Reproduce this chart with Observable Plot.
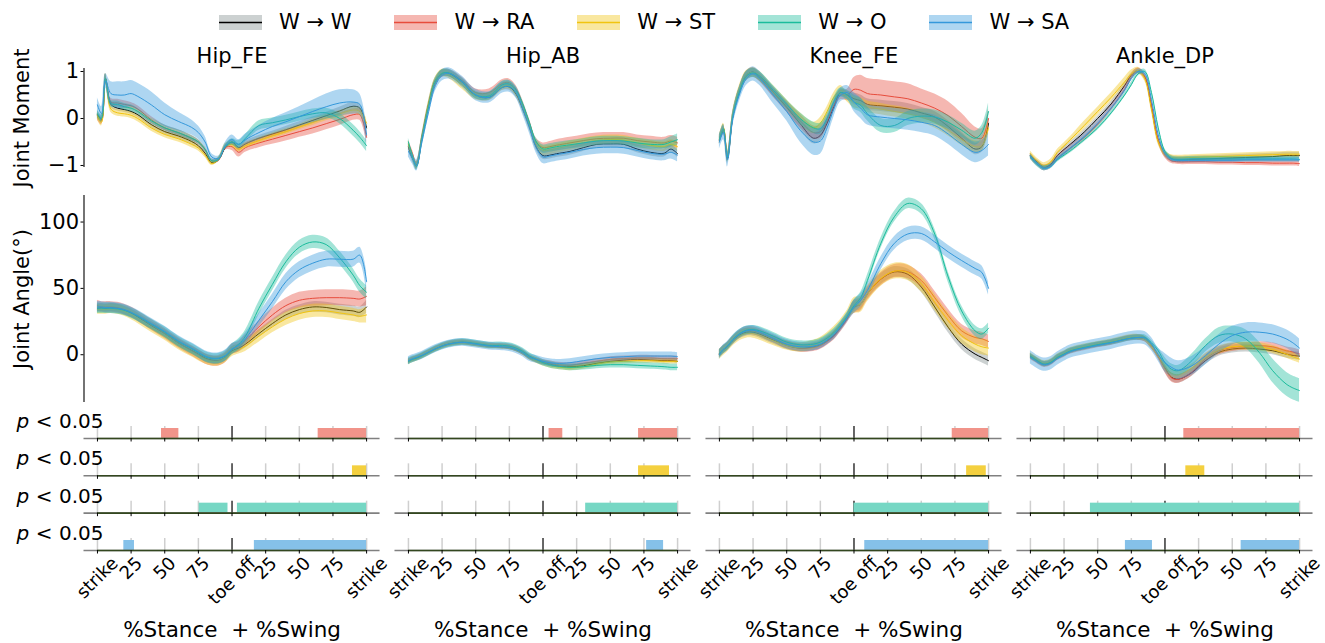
<!DOCTYPE html>
<html><head><meta charset="utf-8">
<script src="https://cdn.jsdelivr.net/npm/d3@7"></script>
<script src="https://cdn.jsdelivr.net/npm/@observablehq/plot@0.6"></script>
<style>
body{margin:0;background:#fff;font-family:"DejaVu Sans",sans-serif;}
#fig{position:relative;width:1325px;height:643px;overflow:hidden;background:#fff}
</style></head><body><div id="fig"></div>
<script>
// ---------- categories, ticks ----------
const xs = [0,3,6,10,15,20,25,30,40,50,60,70,75,80,85,90,95,100,105,110,120,130,140,150,160,170,180,190,195,200];
const joints = ["Hip_FE","Hip_AB","Knee_FE","Ankle_DP"];
const seriesKeys = ["W","RA","ST","O","SA"];
const seriesLabels = ["W → W","W → RA","W → ST","W → O","W → SA"];
const lineColors = ["#000000","#e74c3c","#f1c40f","#1abc9c","#3498db"];
const bandColors = ["#7f8c8d","#e74c3c","#f1c40f","#1abc9c","#3498db"];
const pKeys = ["RA","ST","O","SA"];
const barColors = ["#f1948a","#f4d03f","#76d7c4","#85c1e9"];
const xTickValues = [0,25,50,75,100,125,150,175,200];
const xTickLabels = ["strike","25","50","75","toe off","25","50","75","strike"];
const momentTicks = [-1,0,1];
const angleTicks = [0,50,100];

// ---------- Hip_FE ----------
const hipFE_M_W  = [0.08,-0.02,0.85,0.3,0.22,0.19,0.15,0.08,-0.13,-0.28,-0.37,-0.49,-0.58,-0.74,-0.94,-0.88,-0.62,-0.5,-0.62,-0.54,-0.42,-0.33,-0.24,-0.14,-0.04,0.06,0.16,0.26,0.22,-0.2];
const hipFE_M_RA = [0.05,-0.05,0.85,0.35,0.33,0.3,0.27,0.2,-0.03,-0.2,-0.3,-0.42,-0.5,-0.66,-0.9,-0.88,-0.62,-0.6,-0.72,-0.62,-0.52,-0.44,-0.36,-0.28,-0.2,-0.11,-0.02,0.08,0.08,-0.4];
const hipFE_M_ST = [0.05,-0.08,0.85,0.2,0.12,0.1,0.07,0.0,-0.2,-0.34,-0.43,-0.55,-0.63,-0.78,-0.96,-0.86,-0.58,-0.55,-0.65,-0.58,-0.47,-0.37,-0.28,-0.18,-0.08,0.02,0.1,0.18,0.15,-0.1];
const hipFE_M_O  = [0.1,0.0,0.85,0.32,0.3,0.25,0.22,0.15,-0.05,-0.2,-0.3,-0.42,-0.5,-0.66,-0.9,-0.87,-0.6,-0.5,-0.55,-0.42,-0.15,-0.09,-0.03,0.04,0.1,0.12,0.0,-0.25,-0.4,-0.58];
const hipFE_M_SA = [0.29,0.1,0.8,0.53,0.5,0.5,0.53,0.47,0.29,0.08,-0.06,-0.19,-0.3,-0.5,-0.82,-0.85,-0.58,-0.45,-0.55,-0.45,-0.3,-0.17,-0.07,0.04,0.15,0.25,0.33,0.35,0.3,-0.35];
const hipFE_M_W_sd  = [0.08,0.08,0.1,0.07,0.06,0.06,0.06,0.06,0.06,0.06,0.06,0.06,0.05,0.05,0.04,0.04,0.05,0.06,0.06,0.06,0.06,0.06,0.07,0.07,0.07,0.07,0.08,0.08,0.08,0.1];
const hipFE_M_RA_sd = [0.08,0.08,0.1,0.08,0.08,0.08,0.07,0.07,0.07,0.06,0.06,0.06,0.05,0.05,0.04,0.04,0.05,0.08,0.1,0.1,0.1,0.11,0.12,0.12,0.13,0.13,0.13,0.12,0.12,0.12];
const hipFE_M_ST_sd = [0.08,0.08,0.1,0.07,0.07,0.07,0.07,0.07,0.07,0.07,0.07,0.07,0.06,0.05,0.04,0.04,0.05,0.06,0.06,0.06,0.06,0.06,0.06,0.06,0.07,0.07,0.07,0.07,0.08,0.1];
const hipFE_M_O_sd  = [0.08,0.08,0.1,0.07,0.07,0.07,0.07,0.06,0.06,0.06,0.06,0.06,0.05,0.05,0.04,0.04,0.05,0.07,0.08,0.08,0.1,0.1,0.1,0.1,0.1,0.1,0.11,0.12,0.12,0.12];
const hipFE_M_SA_sd = [0.15,0.15,0.15,0.25,0.28,0.28,0.28,0.28,0.28,0.25,0.2,0.16,0.14,0.12,0.07,0.05,0.07,0.1,0.1,0.12,0.15,0.17,0.19,0.21,0.24,0.27,0.28,0.26,0.22,0.2];

const hipFE_A_W  = [35,35.5,35,35.6,35,33.6,31.5,28.5,22,16,9,3.3,0.5,-2.5,-4,-4.3,-2,3,5,8,16,23.5,30,34,36,35.6,34,33,32,36];
const hipFE_A_RA = [37,36,36,36,35.5,34,32,29,22.5,16,9,3,0,-3,-4.5,-4.5,-2,4,6,11,21,30,37,41,42.5,43,43,42.5,42,44];
const hipFE_A_ST = [34,34,34,34.5,34,32.5,30,27,20.5,14.5,7.5,2,-1,-3.5,-5,-5,-2.5,2,4,6.5,14,21,27,31,33,33,31.5,30,29,30];
const hipFE_A_O  = [35,35,35,35,34.5,33.5,31.5,29,23,17,10,4.5,1.5,-1.5,-3,-3,-1,4,8,14,35,53,70,81,85,83,73,60,52,47];
const hipFE_A_SA = [36,36,35.5,35.5,35,34,32,29.5,23.5,17.5,10.5,5,2,-1,-2.5,-2.5,-0.5,4.5,7,12,26,40,55,64,69,72,72,72,75,55];
const hipFE_A_W_sd  = [3,3,3,3,3,3,3,3,3,3,3,3,3,3,3,3,3,3,3,3,3,3,3.5,3.5,4,4,4,4,4,5];
const hipFE_A_RA_sd = [4,4,4,4,4,4,4,4,4,4,4,4,4,4,4,4,4,4,4,4,4.5,5,5.5,6,6,6,6,6,6,7];
const hipFE_A_ST_sd = [3.5,3.5,3.5,3.5,3.5,3.5,3.5,3.5,3.5,3.5,3.5,3.5,3.5,3.5,3.5,3.5,3.5,3.5,3.5,4,4.5,4.5,5,5,5,5,5,5,5,6];
const hipFE_A_O_sd  = [4,4,4,4,4,4,4,4,4,4,4,4,4,4,4,4,4,4,4,4.5,5,5,5,5,5,5,5,5,5,5];
const hipFE_A_SA_sd = [4,4,4,4,4,4,4,4,4,4,4,4,4,4,4,4,4,4,4,4.5,5,5.5,6,6,6,6,6,6,6,8];

// ---------- Hip_AB ----------
const hipAB_M_W  = [-0.61,-0.85,-0.98,-0.4,0.31,0.81,0.96,0.96,0.77,0.49,0.45,0.67,0.67,0.52,0.2,-0.18,-0.61,-0.79,-0.78,-0.75,-0.7,-0.62,-0.55,-0.54,-0.55,-0.65,-0.72,-0.74,-0.65,-0.75];
const hipAB_M_RA = [-0.55,-0.75,-1.0,-0.45,0.25,0.75,0.95,0.97,0.8,0.55,0.55,0.75,0.76,0.62,0.3,-0.1,-0.5,-0.62,-0.6,-0.57,-0.52,-0.47,-0.43,-0.42,-0.42,-0.47,-0.5,-0.52,-0.48,-0.52];
const hipAB_M_ST = [-0.55,-0.8,-1.0,-0.42,0.3,0.8,0.97,0.93,0.7,0.48,0.47,0.68,0.7,0.55,0.25,-0.15,-0.55,-0.68,-0.67,-0.64,-0.58,-0.52,-0.47,-0.45,-0.46,-0.52,-0.57,-0.6,-0.55,-0.6];
const hipAB_M_O  = [-0.5,-0.8,-1.02,-0.45,0.25,0.78,0.96,0.97,0.78,0.5,0.48,0.72,0.73,0.6,0.3,-0.1,-0.5,-0.65,-0.63,-0.6,-0.56,-0.52,-0.48,-0.47,-0.48,-0.52,-0.55,-0.55,-0.5,-0.45];
const hipAB_M_SA = [-0.7,-0.85,-1.0,-0.5,0.15,0.7,0.92,0.96,0.78,0.5,0.45,0.66,0.68,0.55,0.2,-0.2,-0.62,-0.82,-0.8,-0.77,-0.72,-0.66,-0.62,-0.61,-0.62,-0.68,-0.74,-0.76,-0.72,-0.78];
const hipAB_M_W_sd  = [0.07,0.07,0.07,0.07,0.07,0.07,0.07,0.07,0.07,0.07,0.07,0.07,0.07,0.07,0.07,0.07,0.07,0.08,0.08,0.08,0.08,0.08,0.08,0.08,0.08,0.08,0.08,0.08,0.08,0.08];
const hipAB_M_RA_sd = [0.08,0.08,0.08,0.08,0.08,0.08,0.08,0.08,0.08,0.08,0.08,0.08,0.08,0.08,0.08,0.08,0.08,0.1,0.11,0.12,0.12,0.12,0.12,0.12,0.12,0.12,0.12,0.12,0.12,0.12];
const hipAB_M_ST_sd = [0.08,0.08,0.08,0.08,0.08,0.08,0.08,0.08,0.08,0.08,0.08,0.08,0.08,0.08,0.08,0.08,0.08,0.1,0.1,0.1,0.1,0.1,0.1,0.1,0.1,0.1,0.1,0.1,0.1,0.1];
const hipAB_M_O_sd  = [0.08,0.08,0.08,0.08,0.08,0.08,0.08,0.08,0.08,0.08,0.08,0.08,0.08,0.08,0.08,0.08,0.08,0.09,0.09,0.09,0.09,0.09,0.09,0.09,0.09,0.1,0.1,0.1,0.11,0.12];
const hipAB_M_SA_sd = [0.12,0.12,0.12,0.12,0.12,0.12,0.12,0.12,0.12,0.12,0.12,0.12,0.12,0.12,0.12,0.12,0.12,0.14,0.14,0.14,0.14,0.14,0.14,0.14,0.14,0.14,0.14,0.14,0.14,0.14];

const hipAB_A_W  = [-5,-3.5,-2.5,-0.8,1.8,4.3,6.5,8,9.3,8,6.5,6,5.5,4,1.5,-2,-4,-5.8,-7,-8.3,-9,-8.3,-6.5,-5,-4,-3.5,-4,-4.5,-4.5,-5];
const hipAB_A_RA = [-5,-3.5,-2.5,-0.8,1.8,4.3,6.5,8.2,9.5,8.2,6.8,6.3,5.8,4.3,1.7,-1.8,-4,-5.5,-6.5,-7.5,-8,-6.5,-5,-3.5,-3,-2.5,-2.5,-3,-3,-3];
const hipAB_A_ST = [-5.5,-4,-3,-1.2,1.5,4,6.2,7.8,9.2,8,6.5,6.2,5.8,4.5,1.8,-2,-4.5,-6.5,-8,-9,-10,-9,-7,-5.5,-5,-4.5,-4.5,-5,-5,-5];
const hipAB_A_O  = [-5,-3.5,-2.5,-0.8,1.8,4.3,6.5,8,9.5,8.5,7,7,6.5,5,2.5,-1,-3.5,-6,-7.5,-8.5,-9.5,-9,-8,-7.5,-7.5,-8,-8.5,-9,-9.5,-9.5];
const hipAB_A_SA = [-4.5,-3,-2,-0.5,2,4.5,6.5,8,9.3,8,6.5,6,5.5,4,1.5,-2,-3.5,-5,-6,-6.5,-6,-4.5,-3,-2,-1.5,-1,-1,-1,-1,-1.5];
const hipAB_A_W_sd  = [1.5,1.5,1.5,1.5,1.5,1.5,1.5,1.5,1.5,1.5,1.5,1.5,1.5,1.5,1.5,1.5,1.5,1.5,1.5,1.5,1.5,1.5,1.5,1.5,1.5,1.5,1.5,1.5,1.5,1.5];
const hipAB_A_RA_sd = [2,2,2,2,2,2,2,2,2,2,2,2,2,2,2,2,2,2,2,2,2,2,2,2,2,2,2,2,2,2];
const hipAB_A_ST_sd = [2,2,2,2,2,2,2,2,2,2,2,2,2,2,2,2,2,2,2,2,2,2,2,2,2,2,2,2,2,2];
const hipAB_A_O_sd  = [2.5,2.5,2.5,2.5,2.5,2.5,2.5,2.5,2.5,2.5,2.5,2.5,2.5,2.5,2.5,2.5,2.5,2.5,2.5,2.5,2.5,2.5,2.5,2.5,2.5,2.5,2.5,2.5,2.5,2.5];
const hipAB_A_SA_sd = [3,3,3,3,3,3,3,3,3,3,3,3,3,3,3,3,3,3,3,3,3,3,3,3,3,3,3,3,3,3];

// ---------- Knee_FE ----------
const kneeFE_M_W  = [-0.47,-0.25,-0.85,0.05,0.6,0.92,0.99,0.88,0.56,0.24,-0.11,-0.42,-0.36,-0.1,0.25,0.55,0.5,0.42,0.38,0.3,0.27,0.24,0.2,0.12,0.03,-0.17,-0.42,-0.65,-0.6,-0.1];
const kneeFE_M_RA = [-0.45,-0.22,-0.8,0.05,0.58,0.9,0.98,0.88,0.56,0.26,-0.05,-0.3,-0.28,-0.05,0.28,0.5,0.5,0.62,0.6,0.53,0.5,0.46,0.42,0.33,0.22,0.06,-0.17,-0.4,-0.42,0.0];
const kneeFE_M_ST = [-0.45,-0.2,-0.82,0.08,0.62,0.92,0.98,0.9,0.6,0.3,0.0,-0.2,-0.1,0.15,0.45,0.6,0.45,0.35,0.32,0.25,0.2,0.15,0.1,0.03,-0.08,-0.25,-0.45,-0.6,-0.58,-0.2];
const kneeFE_M_O  = [-0.45,-0.22,-0.82,0.05,0.58,0.9,0.97,0.9,0.6,0.3,0.0,-0.2,-0.22,0.0,0.35,0.55,0.5,0.35,0.28,0.1,-0.15,-0.15,0.0,0.05,0.03,-0.08,-0.25,-0.42,-0.3,0.15];
const kneeFE_M_SA = [-0.5,-0.3,-0.88,0.0,0.52,0.85,0.95,0.85,0.5,0.15,-0.25,-0.5,-0.48,-0.2,0.2,0.5,0.55,0.35,0.22,0.08,0.03,0.0,-0.03,-0.08,-0.15,-0.33,-0.55,-0.72,-0.68,-0.55];
const kneeFE_M_W_sd  = [0.08,0.08,0.1,0.08,0.08,0.08,0.08,0.08,0.1,0.1,0.12,0.12,0.12,0.1,0.1,0.08,0.08,0.12,0.12,0.12,0.12,0.12,0.12,0.12,0.12,0.12,0.12,0.12,0.12,0.15];
const kneeFE_M_RA_sd = [0.1,0.1,0.1,0.1,0.1,0.1,0.1,0.1,0.1,0.12,0.14,0.14,0.14,0.12,0.1,0.1,0.12,0.25,0.32,0.32,0.32,0.32,0.32,0.3,0.3,0.3,0.28,0.22,0.2,0.2];
const kneeFE_M_ST_sd = [0.1,0.1,0.1,0.1,0.1,0.1,0.1,0.1,0.1,0.1,0.12,0.12,0.12,0.1,0.1,0.1,0.1,0.12,0.12,0.12,0.12,0.12,0.12,0.12,0.12,0.12,0.12,0.12,0.12,0.15];
const kneeFE_M_O_sd  = [0.1,0.1,0.1,0.1,0.1,0.1,0.1,0.1,0.1,0.1,0.12,0.12,0.12,0.1,0.1,0.1,0.1,0.15,0.15,0.15,0.15,0.15,0.15,0.15,0.15,0.15,0.15,0.15,0.15,0.18];
const kneeFE_M_SA_sd = [0.15,0.15,0.15,0.15,0.15,0.15,0.15,0.15,0.18,0.2,0.25,0.28,0.28,0.22,0.18,0.15,0.15,0.2,0.22,0.22,0.22,0.22,0.22,0.22,0.22,0.22,0.22,0.22,0.22,0.25];

const kneeFE_A_W  = [0.5,3.5,6,10.6,15,17,17,15.5,11,7,5,6,7.5,10.6,14.5,20.7,28,36,38,46,57,62.4,60.6,51,36,20.7,8,0.5,-2,-4.5];
const kneeFE_A_RA = [1,4,6.5,11,15.5,18,18,16.5,12,7.5,5,5.5,7,10,14,20,27,36,38,46,57,63,62.5,56,43,29.5,18,13,12,10];
const kneeFE_A_ST = [0,3,5.5,10,14,16,16,14.5,10.5,7,5.5,7.5,9.5,13,17.5,23,30,37,38,46,57.5,63,62,53.5,39.6,25.8,14.4,8,6,5];
const kneeFE_A_O  = [1,4,6.5,11.5,16,18.5,19,18,14,9.5,7.5,8,9.5,12.5,16.5,22,29,37,43,56,84,104,114,110,91,58.6,33,18,15.6,20];
const kneeFE_A_SA = [0,4,6.5,11,15.5,18,18.5,17,12.5,8,6,6.5,8,11,15,21,28,36,41,48.5,68.7,84,91,91.4,85,77.5,71,65,62,50];
const kneeFE_A_W_sd  = [3,3,3,3,3,3,3,3,3,3,3,3,3,3,3,3,3,4,4,4,4,4,4,4,4,4,4,4,4,4];
const kneeFE_A_RA_sd = [3,3,3,3,3,3,3,3,3,3,3,3,3,3,3,3,3,5,5,5,5,5,5,5,5,5,5,5,5,5];
const kneeFE_A_ST_sd = [3.5,3.5,3.5,3.5,3.5,3.5,3.5,3.5,3.5,3.5,3.5,3.5,3.5,3.5,3.5,3.5,3.5,6,6,6,6,6,6,6,6,6,6,6,6,6];
const kneeFE_A_O_sd  = [3,3,3,3,3,3,3,3,3,3,3,3,3,3,3,3,3,4,4,4,4,4,4,4,4,4,4,4,4,4];
const kneeFE_A_SA_sd = [3.5,3.5,3.5,3.5,3.5,3.5,3.5,3.5,3.5,3.5,3.5,3.5,3.5,3.5,3.5,3.5,3.5,5,5,5,5,5,5,5,5,5,5,5,5,5];

// ---------- Ankle_DP ----------
const ankleDP_M_W  = [-0.79,-0.88,-0.95,-1.04,-0.98,-0.79,-0.66,-0.54,-0.29,0.0,0.31,0.7,0.92,1.02,0.88,0.24,-0.47,-0.75,-0.86,-0.88,-0.87,-0.86,-0.85,-0.84,-0.83,-0.82,-0.81,-0.79,-0.79,-0.79];
const ankleDP_M_RA = [-0.8,-0.9,-0.97,-1.05,-1.0,-0.85,-0.73,-0.62,-0.4,-0.12,0.22,0.62,0.88,1.02,0.9,0.3,-0.45,-0.78,-0.9,-0.92,-0.92,-0.92,-0.93,-0.93,-0.94,-0.94,-0.95,-0.95,-0.95,-0.96];
const ankleDP_M_ST = [-0.75,-0.85,-0.93,-1.0,-0.93,-0.72,-0.58,-0.44,-0.15,0.15,0.45,0.78,0.95,1.02,0.85,0.2,-0.5,-0.75,-0.83,-0.84,-0.83,-0.82,-0.81,-0.8,-0.79,-0.78,-0.77,-0.76,-0.76,-0.76];
const ankleDP_M_O  = [-0.82,-0.92,-1.0,-1.06,-1.02,-0.88,-0.78,-0.68,-0.45,-0.2,0.12,0.5,0.72,0.95,1.0,0.55,-0.2,-0.7,-0.85,-0.87,-0.86,-0.86,-0.86,-0.86,-0.86,-0.86,-0.86,-0.86,-0.86,-0.87];
const ankleDP_M_SA = [-0.8,-0.9,-0.98,-1.06,-1.02,-0.86,-0.74,-0.62,-0.38,-0.1,0.22,0.6,0.85,1.0,0.95,0.4,-0.35,-0.75,-0.87,-0.89,-0.89,-0.89,-0.89,-0.89,-0.88,-0.88,-0.88,-0.88,-0.88,-0.88];
const ankleDP_M_W_sd  = [0.05,0.05,0.05,0.05,0.05,0.05,0.05,0.05,0.05,0.05,0.05,0.05,0.05,0.05,0.05,0.05,0.05,0.07,0.07,0.07,0.07,0.07,0.07,0.07,0.07,0.07,0.07,0.07,0.07,0.07];
const ankleDP_M_RA_sd = [0.06,0.06,0.06,0.06,0.06,0.06,0.06,0.06,0.06,0.06,0.06,0.06,0.06,0.06,0.06,0.06,0.06,0.06,0.06,0.06,0.06,0.06,0.06,0.06,0.06,0.06,0.06,0.06,0.06,0.06];
const ankleDP_M_ST_sd = [0.06,0.06,0.06,0.06,0.06,0.06,0.06,0.06,0.09,0.09,0.09,0.09,0.08,0.07,0.06,0.06,0.06,0.06,0.06,0.06,0.06,0.06,0.06,0.06,0.06,0.06,0.06,0.06,0.06,0.06];
const ankleDP_M_O_sd  = [0.05,0.05,0.05,0.05,0.05,0.05,0.05,0.05,0.05,0.05,0.05,0.05,0.05,0.05,0.05,0.05,0.05,0.05,0.05,0.05,0.05,0.05,0.05,0.05,0.05,0.05,0.05,0.05,0.05,0.05];
const ankleDP_M_SA_sd = [0.05,0.05,0.05,0.05,0.05,0.05,0.05,0.05,0.05,0.05,0.05,0.05,0.05,0.05,0.05,0.05,0.05,0.05,0.05,0.05,0.05,0.05,0.05,0.05,0.05,0.05,0.05,0.05,0.05,0.05];

const ankleDP_A_W  = [-1,-3,-5,-7,-5.8,-2,0.5,3,5.5,7.6,9.3,11.9,12.8,13,12,6.8,-0.8,-10,-17,-18.4,-13.4,-4.5,1.8,4.3,5,4.3,3,0.5,-0.5,-1];
const ankleDP_A_RA = [-1.5,-3.5,-5.5,-7.5,-6.3,-2.5,0,2.5,5,7.2,9,11.6,12.5,12.8,11.8,6.5,-1.2,-10.5,-17.5,-18.5,-13,-3,3,5.5,6.5,6.8,6,3,2,0.5];
const ankleDP_A_ST = [-0.5,-2.5,-4.5,-6.5,-5.3,-1.5,1,3.5,6,8,9.8,12.3,13.2,13.3,12,6.5,-0.5,-9,-14,-15,-10,-2,3.5,6,6.5,6,4,0.5,-1.5,-3.3];
const ankleDP_A_O  = [-1,-3,-5,-7,-5.8,-2,0.5,3,5.5,7.6,9.3,11.5,12.5,13,13,9,3,-6,-11,-12,-4.5,6.8,14.4,15.6,11.9,1.8,-12,-22,-25,-27];
const ankleDP_A_SA = [-2,-4,-6,-7.5,-6.5,-3,0,2.5,5,7,9,11.5,12.5,13,12.5,8,0,-6,-9.6,-11.6,-8.3,-0.8,8,14.4,17,17,15.6,12,9,5];
const ankleDP_A_W_sd  = [2,2,2,2,2,2,2,2,2,2,2,2,2,2,2,2,2,3,3,3,3,3,3,3,3,3,3,3,3,3];
const ankleDP_A_RA_sd = [2,2,2,2,2,2,2,2,2,2,2,2,2,2,2,2,2,3,3,3,3,3,3,3,3,3,3,3,3,3];
const ankleDP_A_ST_sd = [2,2,2,2,2,2,2,2,2,2,2,2,2,2,2,2,2,3,3,3,3,3,3,3,3,3,3,3,3,3];
const ankleDP_A_O_sd  = [2,2,2,2,2,2,2,2,2,2,2,2,2,2,2,2,2,4,4,4,5,5,6,6,7,8,9,9,9,9];
const ankleDP_A_SA_sd = [5,5,5,5,5,5,5,5,5,5,5,5,5,5,5,5,5,7,7,7,7,7,7,7,7,7,7,7,7,7];

// ---------- significance segments (p < 0.05): [joint, start, end] ----------
const pRA = [["Hip_FE",47.6,60.5],["Hip_FE",164,200],["Hip_AB",104.5,114.7],["Hip_AB",171,200],["Knee_FE",173,200],["Ankle_DP",114,200]];
const pST = [["Hip_FE",189.5,200],["Hip_AB",171,194],["Knee_FE",183.7,198.3],["Ankle_DP",115.5,129.6]];
const pO  = [["Hip_FE",75.6,97],["Hip_FE",104,200],["Hip_AB",131.7,200],["Knee_FE",100,200],["Ankle_DP",44.6,200]];
const pSA = [["Hip_FE",19.6,27.5],["Hip_FE",116.6,200],["Hip_AB",177,189.6],["Knee_FE",108,200],["Ankle_DP",70.6,90.7],["Ankle_DP",156.6,200]];

// ---------- build tables ----------
const momentSets = [
  ["Hip_FE",[hipFE_M_W,hipFE_M_RA,hipFE_M_ST,hipFE_M_O,hipFE_M_SA],[hipFE_M_W_sd,hipFE_M_RA_sd,hipFE_M_ST_sd,hipFE_M_O_sd,hipFE_M_SA_sd]],
  ["Hip_AB",[hipAB_M_W,hipAB_M_RA,hipAB_M_ST,hipAB_M_O,hipAB_M_SA],[hipAB_M_W_sd,hipAB_M_RA_sd,hipAB_M_ST_sd,hipAB_M_O_sd,hipAB_M_SA_sd]],
  ["Knee_FE",[kneeFE_M_W,kneeFE_M_RA,kneeFE_M_ST,kneeFE_M_O,kneeFE_M_SA],[kneeFE_M_W_sd,kneeFE_M_RA_sd,kneeFE_M_ST_sd,kneeFE_M_O_sd,kneeFE_M_SA_sd]],
  ["Ankle_DP",[ankleDP_M_W,ankleDP_M_RA,ankleDP_M_ST,ankleDP_M_O,ankleDP_M_SA],[ankleDP_M_W_sd,ankleDP_M_RA_sd,ankleDP_M_ST_sd,ankleDP_M_O_sd,ankleDP_M_SA_sd]]
];
const angleSets = [
  ["Hip_FE",[hipFE_A_W,hipFE_A_RA,hipFE_A_ST,hipFE_A_O,hipFE_A_SA],[hipFE_A_W_sd,hipFE_A_RA_sd,hipFE_A_ST_sd,hipFE_A_O_sd,hipFE_A_SA_sd]],
  ["Hip_AB",[hipAB_A_W,hipAB_A_RA,hipAB_A_ST,hipAB_A_O,hipAB_A_SA],[hipAB_A_W_sd,hipAB_A_RA_sd,hipAB_A_ST_sd,hipAB_A_O_sd,hipAB_A_SA_sd]],
  ["Knee_FE",[kneeFE_A_W,kneeFE_A_RA,kneeFE_A_ST,kneeFE_A_O,kneeFE_A_SA],[kneeFE_A_W_sd,kneeFE_A_RA_sd,kneeFE_A_ST_sd,kneeFE_A_O_sd,kneeFE_A_SA_sd]],
  ["Ankle_DP",[ankleDP_A_W,ankleDP_A_RA,ankleDP_A_ST,ankleDP_A_O,ankleDP_A_SA],[ankleDP_A_W_sd,ankleDP_A_RA_sd,ankleDP_A_ST_sd,ankleDP_A_O_sd,ankleDP_A_SA_sd]]
];
function makeRows(sets) {
  const rows = [];
  for (const [j, means, sds] of sets) {
    seriesKeys.forEach((k, si) => {
      const m = means[si], s = sds[si];
      const n = Math.min(xs.length, m.length, s.length);
      for (let i = 0; i < n; i++) rows.push({j, k, x: xs[i], m: m[i], s: s[i]});
    });
  }
  return rows;
}
const momentRows = makeRows(momentSets);
const angleRows = makeRows(angleSets);
const pSets = [pRA, pST, pO, pSA];
const pRows = pSets.map((segs, i) => segs.map(([j, s, e]) => ({j, k: pKeys[i], s, e})));

// ---------- layout helpers ----------
const fig = document.getElementById("fig");
const FONT = "'DejaVu Sans', sans-serif";
function place(el, top) {
  el.style.position = "absolute"; el.style.left = "0px"; el.style.top = top + "px";
  fig.appendChild(el);
}
const common = {
  width: 1325, marginLeft: 83.5, marginRight: 12.5,
  style: {fontFamily: FONT, fontSize: "21px", background: "transparent", color: "black", overflow: "visible"},
  fx: {domain: joints, paddingInner: 0.048, paddingOuter: 0, round: false, axis: null, label: null},
  x: {domain: [-10, 210], axis: null}
};
function curveMarks(rows) {
  const marks = [];
  seriesKeys.forEach((k, i) => {
    const r = rows.filter(d => d.k === k);
    marks.push(Plot.areaY(r, {x: "x", y1: d => d.m - d.s, y2: d => d.m + d.s, fx: "j",
      fill: bandColors[i], fillOpacity: 0.4, curve: "catmull-rom"}));
    marks.push(Plot.lineY(r, {x: "x", y: "m", fx: "j", stroke: lineColors[i], strokeWidth: 1, curve: "catmull-rom"}));
  });
  return marks;
}
const intFmt = d3.format("d");

// ---------- legend ----------
const legend = document.createElement("div");
legend.style.cssText = `position:absolute;left:219px;top:0;height:44px;display:flex;align-items:center;gap:43px;font:21px ${FONT};color:#000;white-space:nowrap;`;
seriesLabels.forEach((lab, i) => {
  const item = document.createElement("div");
  item.style.cssText = "display:flex;align-items:center;gap:17px;";
  item.innerHTML = `<svg width="43" height="15" style="display:block"><rect x="0" y="0" width="43" height="15" fill="${bandColors[i]}" fill-opacity="0.4"/><line x1="0" x2="43" y1="7.5" y2="7.5" stroke="${lineColors[i]}" stroke-width="1.5"/></svg><span>${lab}</span>`;
  legend.appendChild(item);
});
fig.appendChild(legend);

// ---------- moment row ----------
const momentPlot = Plot.plot({
  ...common, height: 135, marginTop: 28, marginBottom: 8,
  y: {domain: [-1.043, 1.064], ticks: momentTicks, tickFormat: intFmt, tickSize: 3, tickPadding: 2, label: null},
  marks: [
    Plot.ruleX([{j: joints[0]}], {fx: "j", x: () => -10, stroke: "black", strokeWidth: 1.1}),
    ...curveMarks(momentRows),
    Plot.text(joints, {fx: d => d, text: d => d, frameAnchor: "top", lineAnchor: "middle", dy: -12, fontSize: 21}),
    Plot.text([{j: joints[0]}], {fx: "j", text: () => "Joint Moment", frameAnchor: "left", rotate: -90,
      textAnchor: "middle", lineAnchor: "middle", dx: -61.5, fontSize: 21})
  ]
});
place(momentPlot, 40);

// ---------- angle row ----------
const anglePlot = Plot.plot({
  ...common, height: 222, marginTop: 10, marginBottom: 5,
  y: {domain: [-36, 120], ticks: angleTicks, tickFormat: intFmt, tickSize: 3, tickPadding: 2, label: null},
  marks: [
    Plot.ruleX([{j: joints[0]}], {fx: "j", x: () => -10, stroke: "black", strokeWidth: 1.1}),
    ...curveMarks(angleRows),
    Plot.text([{j: joints[0]}], {fx: "j", text: () => "Joint Angle(°)", frameAnchor: "left", rotate: -90,
      textAnchor: "middle", lineAnchor: "middle", dx: -61.5, fontSize: 21})
  ]
});
place(anglePlot, 185);

// ---------- significance rows ----------
const TICK_FS = 18;
const ctx = document.createElement("canvas").getContext("2d");
ctx.font = `${TICK_FS}px 'DejaVu Sans'`;
const tickLabelMarks = xTickValues.map((v, i) => {
  const w = ctx.measureText(xTickLabels[i]).width;
  const bb = (w + 0.75 * TICK_FS) / Math.SQRT2;
  return Plot.text(joints.map(j => ({j, k: pKeys[pKeys.length - 1]})), {
    fx: "j", fy: "k", x: () => v, text: () => xTickLabels[i], frameAnchor: "bottom",
    rotate: -45, textAnchor: "middle", lineAnchor: "middle", dy: 5 + bb / 2, fontSize: TICK_FS
  });
});
const gridTicks = xTickValues.filter((v, i) => xTickLabels[i] !== "toe off");
const toeOff = xTickValues.filter((v, i) => xTickLabels[i] === "toe off");
const firstCol = pKeys.map(k => ({j: joints[0], k}));
const lastRow = joints.map(j => ({j, k: pKeys[pKeys.length - 1]}));
const pPlot = Plot.plot({
  ...common, height: 233, marginTop: 16, marginBottom: 93,
  style: {...common.style, fontSize: "18px"},
  fy: {domain: pKeys, paddingInner: 0.679, paddingOuter: 0, round: false, axis: null, label: null},
  y: {domain: [0, 1.2], axis: null},
  marks: [
    Plot.ruleX(gridTicks, {stroke: "#cfcfcf", strokeWidth: 1.5}),
    Plot.ruleX(toeOff, {stroke: "black", strokeWidth: 1.2}),
    ...pRows.map((rows, i) => Plot.rectY(rows, {x1: "s", x2: "e", y1: 0, y2: 1, fx: "j", fy: "k", fill: barColors[i]})),
    Plot.ruleY([0], {stroke: "#808080", strokeWidth: 1.6}),
    Plot.ruleY([{a: xTickValues[0], b: xTickValues[xTickValues.length - 1]}], {x1: "a", x2: "b", y: () => 0, stroke: "#33471f", strokeWidth: 1.6}),
    Plot.ruleX(xTickValues, {x: d => d, y1: () => 0, y2: () => 0, insetBottom: -3.5, stroke: "black", strokeWidth: 1}),
    Plot.text(firstCol, {fx: "j", fy: "k", text: () => "p", frameAnchor: "top-left", textAnchor: "start", lineAnchor: "middle",
      dx: -67.5, dy: -5, fontStyle: "italic", fontSize: 20}),
    Plot.text(firstCol, {fx: "j", fy: "k", text: () => "< 0.05", frameAnchor: "top-left", textAnchor: "end", lineAnchor: "middle",
      dx: 19.5, dy: -5, fontSize: 20}),
    ...tickLabelMarks,
    Plot.text(lastRow, {fx: "j", fy: "k", text: () => "%Stance\u00a0 + %Swing", frameAnchor: "bottom", lineAnchor: "middle", dy: 80, fontSize: 21.5})
  ]
});
place(pPlot, 410);
</script></body></html>
